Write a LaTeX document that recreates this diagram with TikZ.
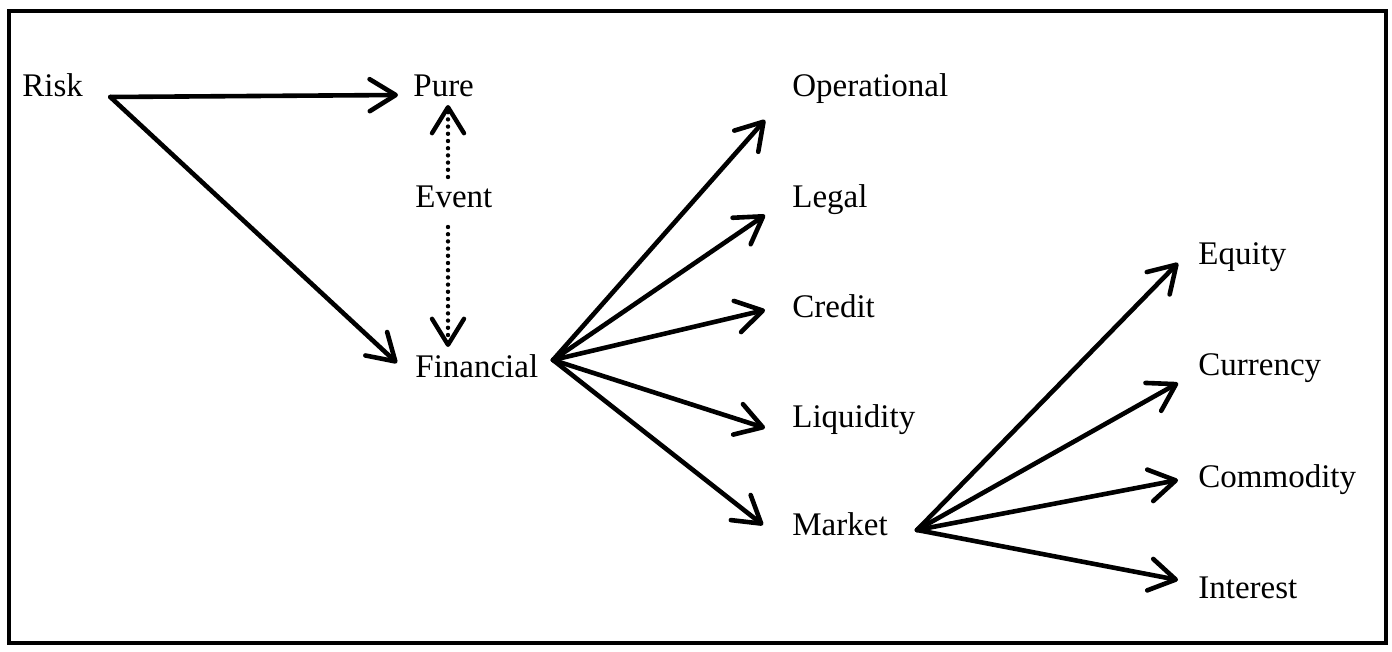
\documentclass[tikz,border=0pt]{standalone}
\usepackage{fontspec}
\setmainfont{Liberation Serif}
\usetikzlibrary{arrows.meta}

\begin{document}
\begin{tikzpicture}[x=0.5pt, y=-0.5pt,
    lbl/.style={anchor=base west, inner sep=0pt, font=\fontsize{16.5}{20}\selectfont},
    arr/.style={line width=2.3pt, line cap=round, -{Straight Barb[length=13pt, width=16pt, round]}},
    dotarr/.style={line width=2.2pt, line cap=round, dash pattern=on 0pt off 3.6pt,
        -{Straight Barb[length=13pt, width=16pt, round]}}]
    \useasboundingbox (0,0) rectangle (1392,652);
    \draw[line width=2pt] (9,11) rectangle (1386,643);

    % left part
    \node[lbl] (risk) at (22,97) {Risk};
    \node[lbl] (pure) at (413,97) {Pure};
    \node[lbl] (event) at (415,208) {Event};
    \node[lbl] (fin) at (415,377) {Financial};

    % kinds of financial risk
    \node[lbl] (op) at (792,97) {Operational};
    \node[lbl] (legal) at (792,208) {Legal};
    \node[lbl] (credit) at (792,317) {Credit};
    \node[lbl] (liq) at (792,427) {Liquidity};
    \node[lbl] (mkt) at (792,535) {Market};

    % kinds of market risk
    \node[lbl] (eq) at (1198,265) {Equity};
    \node[lbl] (cur) at (1198,375) {Currency};
    \node[lbl] (com) at (1198,487) {Commodity};
    \node[lbl] (int) at (1198,598) {Interest};

    \draw[arr] ([shift={(27,0)}]risk.base east) -- ([shift={(-15,-2)}]pure.base west);
    \draw[arr] ([shift={(27,0)}]risk.base east) -- ([shift={(-18,-14)}]fin.base west);

    \draw[dotarr] ([shift={(33,-31)}]event.base west) -- ([shift={(35,8)}]pure.base west);
    \draw[dotarr] ([shift={(33,19)}]event.base west) -- ([shift={(33,-30)}]fin.base west);

    \draw[arr] ([shift={(138,-17)}]fin.base west) -- ([shift={(-27,23)}]op.base west);
    \draw[arr] ([shift={(138,-17)}]fin.base west) -- ([shift={(-27,7)}]legal.base west);
    \draw[arr] ([shift={(138,-17)}]fin.base west) -- ([shift={(-27,-7)}]credit.base west);
    \draw[arr] ([shift={(138,-17)}]fin.base west) -- ([shift={(-27,1)}]liq.base west);
    \draw[arr] ([shift={(138,-17)}]fin.base west) -- ([shift={(-29,-10)}]mkt.base west);

    \draw[arr] ([shift={(125,-5)}]mkt.base west) -- ([shift={(-20,-2)}]eq.base west);
    \draw[arr] ([shift={(125,-5)}]mkt.base west) -- ([shift={(-20,8)}]cur.base west);
    \draw[arr] ([shift={(125,-5)}]mkt.base west) -- ([shift={(-20,-7)}]com.base west);
    \draw[arr] ([shift={(125,-5)}]mkt.base west) -- ([shift={(-20,-18)}]int.base west);
\end{tikzpicture}
\end{document}
